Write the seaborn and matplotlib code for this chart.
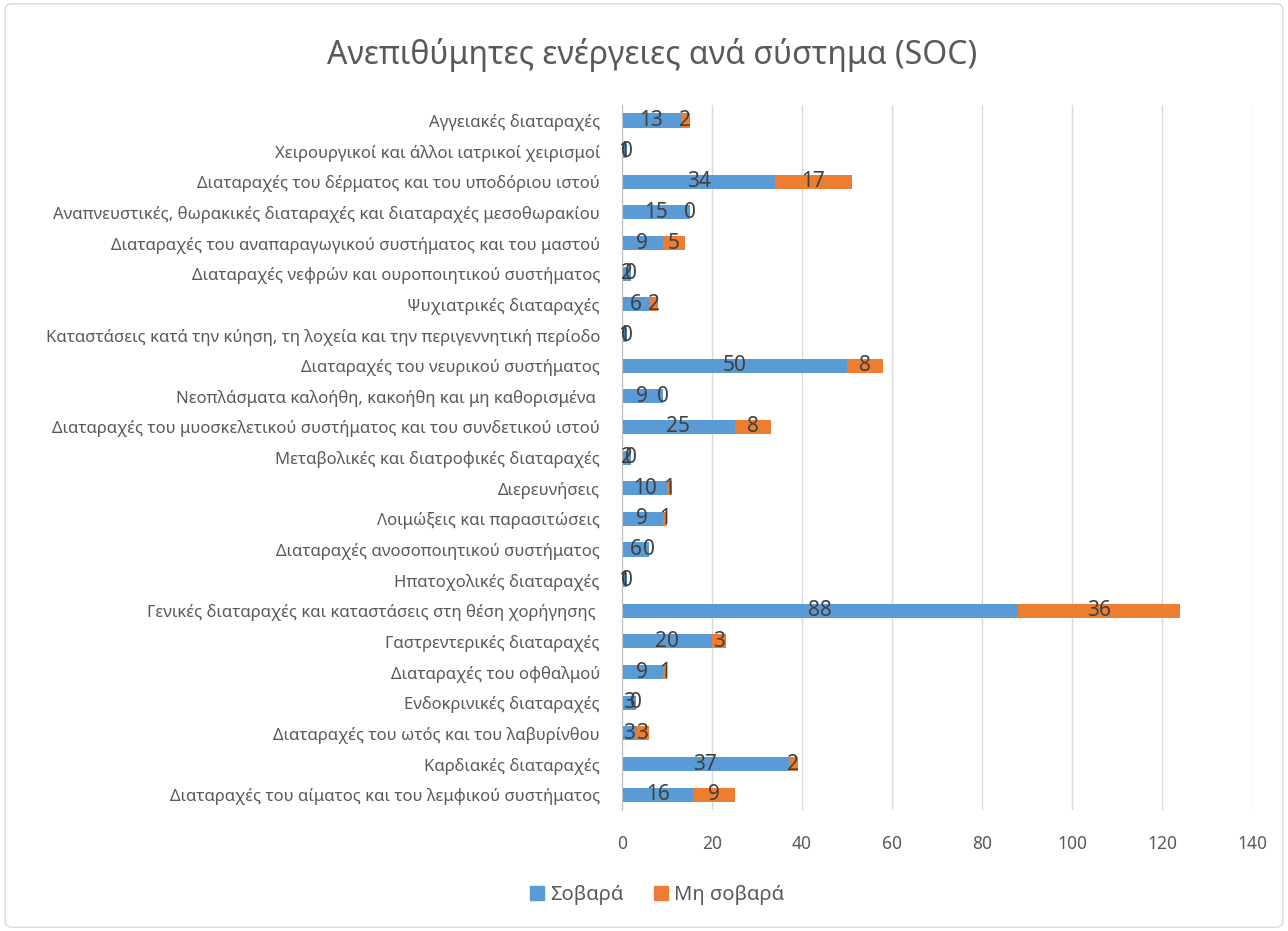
import matplotlib
import matplotlib.pyplot as plt
import numpy as np
import pandas as pd
import seaborn as sns
from matplotlib.patches import Patch, FancyBboxPatch

matplotlib.use("Agg")

categories = [
    "Αγγειακές διαταραχές",
    "Χειρουργικοί και άλλοι ιατρικοί χειρισμοί",
    "Διαταραχές του δέρματος και του υποδόριου ιστού",
    "Αναπνευστικές, θωρακικές διαταραχές και διαταραχές μεσοθωρακίου",
    "Διαταραχές του αναπαραγωγικού συστήματος και του μαστού",
    "Διαταραχές νεφρών και ουροποιητικού συστήματος",
    "Ψυχιατρικές διαταραχές",
    "Καταστάσεις κατά την κύηση, τη λοχεία και την περιγεννητική περίοδο",
    "Διαταραχές του νευρικού συστήματος",
    "Νεοπλάσματα καλοήθη, κακοήθη και μη καθορισμένα ",
    "Διαταραχές του μυοσκελετικού συστήματος και του συνδετικού ιστού",
    "Μεταβολικές και διατροφικές διαταραχές",
    "Διερευνήσεις",
    "Λοιμώξεις και παρασιτώσεις",
    "Διαταραχές ανοσοποιητικού συστήματος",
    "Ηπατοχολικές διαταραχές",
    "Γενικές διαταραχές και καταστάσεις στη θέση χορήγησης ",
    "Γαστρεντερικές διαταραχές",
    "Διαταραχές του οφθαλμού",
    "Ενδοκρινικές διαταραχές",
    "Διαταραχές του ωτός και του λαβυρίνθου",
    "Καρδιακές διαταραχές",
    "Διαταραχές του αίματος και του λεμφικού συστήματος",
]
serious = [13, 1, 34, 15, 9, 2, 6, 1, 50, 9, 25, 2, 10, 9, 6, 1, 88, 20, 9, 3, 3, 37, 16]
non_serious = [2, 0, 17, 0, 5, 0, 2, 0, 8, 0, 8, 0, 1, 1, 0, 0, 36, 3, 1, 0, 3, 2, 9]
x_ticks = [0, 20, 40, 60, 80, 100, 120, 140]

BLUE = "#5B9BD5"
ORANGE = "#ED7D31"
GREY_TEXT = "#595959"

sns.set_style("white")
plt.rcParams["font.family"] = ["Noto Sans", "DejaVu Sans"]

df = pd.DataFrame({"soc": categories, "serious": serious, "non_serious": non_serious})

fig = plt.figure(figsize=(12.88, 9.31), dpi=100)
ax = fig.add_axes([0.483, 0.130, 0.489, 0.757])

sns.barplot(data=df, y="soc", x="serious", order=categories, color=BLUE,
            width=0.46, saturation=1, linewidth=0, ax=ax, errorbar=None)
sns.barplot(data=df, y="soc", x="non_serious", order=categories, color=ORANGE,
            width=0.46, saturation=1, linewidth=0, ax=ax, errorbar=None)

# stack the orange segments after the blue ones
blue_bars, orange_bars = ax.containers[0], ax.containers[1]
for pb, po in zip(blue_bars, orange_bars):
    po.set_x(pb.get_x() + pb.get_width())

ax.bar_label(blue_bars, labels=[str(v) for v in serious], label_type="center",
             fontsize=15, color="#404040")
ax.bar_label(orange_bars, labels=[str(v) for v in non_serious], label_type="center",
             fontsize=15, color="#404040")

ax.set_xlim(0, 140)
ax.set_xticks(x_ticks)
ax.set_xlabel("")
ax.set_ylabel("")
ax.grid(axis="x", color="#d9d9d9", linewidth=1)
ax.set_axisbelow(True)
for side in ["top", "right", "bottom"]:
    ax.spines[side].set_visible(False)
ax.spines["left"].set_color("#bfbfbf")
ax.tick_params(axis="x", length=0, labelsize=12.5, labelcolor=GREY_TEXT, pad=18)
ax.tick_params(axis="y", length=0, labelsize=12, labelcolor=GREY_TEXT, pad=16)

fig.text(0.506, 0.941, "Ανεπιθύμητες ενέργειες ανά σύστημα (SOC)", ha="center", va="center",
         fontsize=23, color=GREY_TEXT)

handles = [Patch(color=BLUE, label="Σοβαρά"), Patch(color=ORANGE, label="Μη σοβαρά")]
fig.legend(handles=handles, loc="center", bbox_to_anchor=(0.51, 0.039), ncol=2, frameon=False,
           fontsize=14.5, labelcolor=GREY_TEXT, handlelength=0.7, handleheight=0.7,
           handletextpad=0.3, columnspacing=1.5)

fig.patches.append(FancyBboxPatch((0.004, 0.004), 0.992, 0.992, boxstyle="round,pad=0,rounding_size=0.006",
                                  transform=fig.transFigure, fill=False, edgecolor="#d9d9d9", linewidth=1))

plt.savefig("out.png", dpi=100)
